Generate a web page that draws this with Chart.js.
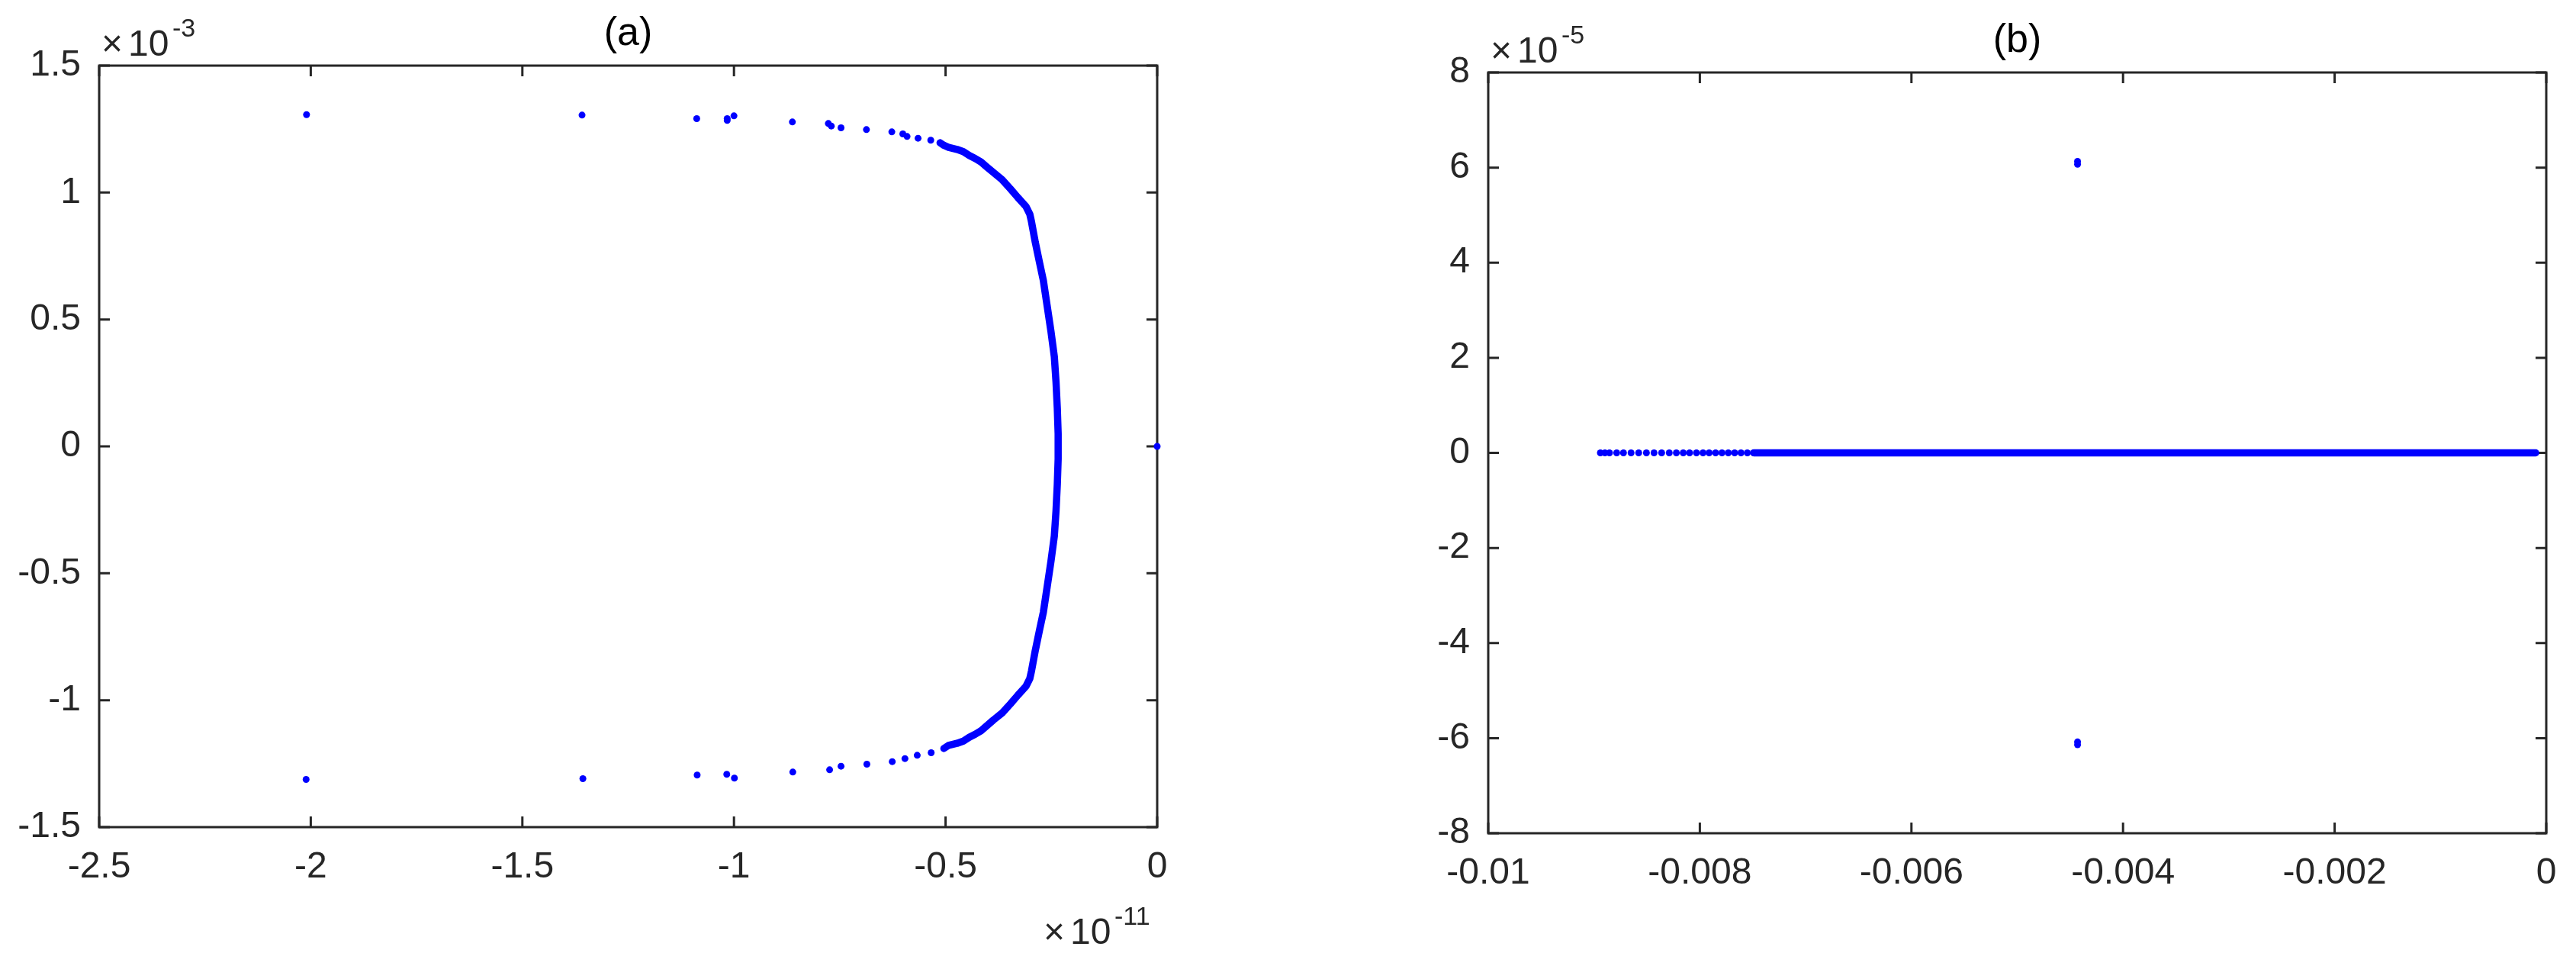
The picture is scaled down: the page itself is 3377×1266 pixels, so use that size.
<!DOCTYPE html>
<html>
<head>
<meta charset="utf-8">
<title>Spectra (a) and (b)</title>
<script src="https://cdn.jsdelivr.net/npm/chart.js@4.4.1/dist/chart.umd.min.js"></script>
<style>
  html, body { margin: 0; padding: 0; background: #fff; }
  body { width: 3377px; height: 1266px; position: relative; overflow: hidden; }
  canvas { position: absolute; top: 0; }
  #panelA { left: 0; }
  #panelB { left: 1730px; }
</style>
</head>
<body>
<canvas id="panelA" width="1730" height="1266"></canvas>
<canvas id="panelB" width="1647" height="1266"></canvas>
<script>
// ---- panel (a): real part in units of 1e-11, imaginary part in units of 1e-3 ----
const aDotsRe = [-2.010, -1.359, -1.088, -1.016, -1.016, -1.000, -0.862, -0.777, -0.770, -0.747,
                 -0.687, -0.627, -0.601, -0.591, -0.565, -0.535,
                 -2.011, -1.357, -1.087, -1.017, -0.999, -0.861, -0.774, -0.747, -0.686, -0.626,
                 -0.596, -0.567, -0.534, 0];
const aDotsIm = [1.307, 1.305, 1.291, 1.291, 1.284, 1.302, 1.278, 1.272, 1.262, 1.255,
                 1.248, 1.239, 1.231, 1.221, 1.214, 1.206,
                 -1.312, -1.309, -1.295, -1.292, -1.307, -1.283, -1.274, -1.260, -1.252, -1.242,
                 -1.230, -1.217, -1.207, 0];
// dense branch, top to bottom
const aBranchRe = [-0.513, -0.504, -0.493, -0.473, -0.458, -0.444, -0.430, -0.416, -0.402, -0.384,
                   -0.366, -0.347, -0.329, -0.310, -0.301, -0.297, -0.288, -0.278, -0.269, -0.260,
                   -0.251, -0.243, -0.239, -0.236, -0.234,
                   -0.234, -0.236, -0.239, -0.243, -0.251, -0.260, -0.269, -0.278, -0.288, -0.297,
                   -0.301, -0.310, -0.329, -0.347, -0.366, -0.387, -0.402, -0.416, -0.430, -0.444,
                   -0.458, -0.473, -0.493, -0.504];
const aBranchIm = [1.196, 1.186, 1.178, 1.170, 1.161, 1.146, 1.134, 1.120, 1.100, 1.075,
                   1.050, 1.015, 0.980, 0.945, 0.915, 0.885, 0.804, 0.724, 0.654, 0.554,
                   0.453, 0.353, 0.253, 0.150, 0.050,
                   -0.050, -0.150, -0.253, -0.353, -0.453, -0.554, -0.654, -0.724, -0.804, -0.885,
                   -0.915, -0.945, -0.980, -1.015, -1.050, -1.078, -1.100, -1.120, -1.134, -1.146,
                   -1.161, -1.170, -1.178, -1.190];
const aXTicks = [-2.5, 0, 0.5];   // min, max, step
const aYTicks = [-1.5, 1.5, 0.5];

// ---- panel (b): real part as is, imaginary part in units of 1e-5 ----
const bDotsRe = [-0.00443, -0.00443, -0.00443, -0.00443,
                 -0.008940, -0.008897, -0.008854, -0.008786, -0.008722, -0.008650, -0.008578,
                 -0.008505, -0.008433, -0.008361, -0.008289, -0.008222, -0.008157, -0.008097,
                 -0.008032, -0.007970, -0.007912, -0.007851, -0.007791, -0.007731, -0.007671,
                 -0.007611, -0.007551, -0.007491];
const bDotsIm = [6.13, 6.07, -6.08, -6.14,
                 0, 0, 0, 0, 0, 0, 0, 0, 0, 0, 0, 0, 0, 0, 0, 0, 0, 0, 0, 0, 0, 0, 0, 0];
// the packed part of the real axis, where the dots run together
const bRowRe = [-0.00749, -0.0001];
const bRowIm = [0, 0];
const bXTicks = [-0.01, 0, 0.002];
const bYTicks = [-8, 8, 2];

const BLUE = '#0000ff';
const AXIS = '#262626';
const FONT = "'Liberation Sans', Arial, sans-serif";

Chart.defaults.font.family = FONT;
Chart.defaults.font.size = 48;
Chart.defaults.color = AXIS;

function pts(xs, ys) {
  return xs.map((x, i) => ({ x: x, y: ys[i] }));
}

function fmt(v) {
  return String(parseFloat(Number(v).toFixed(6)));
}

// MATLAB-like box, inward ticks on all four sides, title and exponent labels
const axesBox = {
  id: 'axesBox',
  beforeDatasetsDraw(chart) {
    const { ctx, chartArea: a, scales } = chart;
    const len = 14;
    ctx.save();
    ctx.strokeStyle = AXIS;
    ctx.lineWidth = 3;
    ctx.strokeRect(a.left, a.top, a.right - a.left, a.bottom - a.top);
    ctx.beginPath();
    scales.x.ticks.forEach(t => {
      const px = scales.x.getPixelForValue(t.value);
      ctx.moveTo(px, a.bottom); ctx.lineTo(px, a.bottom - len);
      ctx.moveTo(px, a.top); ctx.lineTo(px, a.top + len);
    });
    scales.y.ticks.forEach(t => {
      const py = scales.y.getPixelForValue(t.value);
      ctx.moveTo(a.left, py); ctx.lineTo(a.left + len, py);
      ctx.moveTo(a.right, py); ctx.lineTo(a.right - len, py);
    });
    ctx.stroke();
    ctx.restore();
  },
  afterDraw(chart, args, opts) {
    const { ctx, chartArea: a } = chart;
    ctx.save();
    ctx.textAlign = 'center';
    ctx.textBaseline = 'alphabetic';
    ctx.fillStyle = '#000';
    ctx.font = '52px ' + FONT;
    ctx.fillText(opts.title, (a.left + a.right) / 2, a.top - 27);

    ctx.fillStyle = AXIS;
    ctx.textAlign = 'left';
    const exp = (x, base, power) => {
      ctx.font = '48px ' + FONT;
      ctx.fillText('\u00d7', x, base);
      ctx.fillText('10', x + 35, base);
      ctx.font = '34px ' + FONT;
      ctx.fillText(power, x + 93, base - 25);
    };
    if (opts.yExp) exp(a.left + 3, a.top - 13, opts.yExp);
    if (opts.xExp) exp(a.right - 149, a.bottom + 153, opts.xExp);
    ctx.restore();
  }
};

function makeChart(id, datasets, xt, yt, yWidth, xHeight, padRight, padTop, box) {
  return new Chart(document.getElementById(id), {
    type: 'scatter',
    data: { datasets: datasets },
    options: {
      responsive: false,
      animation: false,
      devicePixelRatio: 1,
      layout: { padding: { left: 0, right: padRight, top: padTop, bottom: 0 } },
      plugins: { legend: { display: false }, tooltip: { enabled: false }, axesBox: box },
      scales: {
        x: {
          type: 'linear', min: xt[0], max: xt[1],
          ticks: { stepSize: xt[2], padding: 24, maxRotation: 0, autoSkip: false, callback: fmt },
          grid: { display: false, drawTicks: false },
          border: { display: false },
          afterFit: s => { s.height = xHeight; }
        },
        y: {
          type: 'linear', min: yt[0], max: yt[1],
          ticks: { stepSize: yt[2], padding: 24, autoSkip: false, callback: fmt },
          grid: { display: false, drawTicks: false },
          border: { display: false },
          afterFit: s => { s.width = yWidth; }
        }
      }
    },
    plugins: [axesBox]
  });
}

function dots(data) {
  return { data: data, pointRadius: 4.5, pointBorderWidth: 0, pointBackgroundColor: BLUE,
           showLine: false, clip: false };
}

function band(data) {
  return { data: data, showLine: true, borderColor: BLUE, borderWidth: 9.5, pointRadius: 0,
           borderCapStyle: 'round', borderJoinStyle: 'round', tension: 0, clip: false };
}

makeChart('panelA',
  [band(pts(aBranchRe, aBranchIm)), dots(pts(aDotsRe, aDotsIm))],
  aXTicks, aYTicks, 130, 182, 213, 86,
  { title: '(a)', yExp: '-3', xExp: '-11' });

makeChart('panelB',
  [band(pts(bRowRe, bRowIm)), dots(pts(bDotsRe, bDotsIm))],
  bXTicks, bYTicks, 221, 174, 39, 95,
  { title: '(b)', yExp: '-5' });
</script>
</body>
</html>
